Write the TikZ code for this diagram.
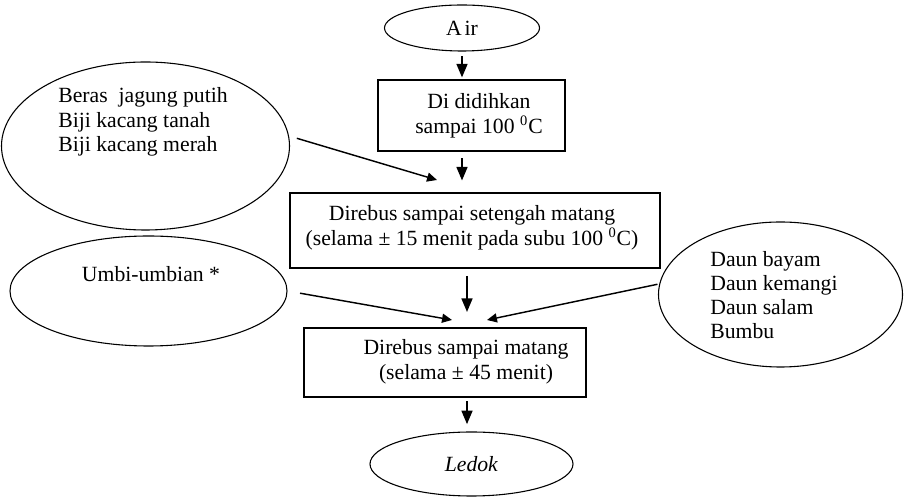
\documentclass[tikz,border=0pt]{standalone}
\usepackage{fontspec}
\setmainfont{Liberation Serif}
\usetikzlibrary{shapes.geometric,arrows.meta}

\tikzset{
  oval/.style={draw, ellipse, line width=0.6pt, inner sep=0pt, font=\fontsize{12}{13.8}\selectfont},
  box/.style={draw, rectangle, line width=0.8pt, inner sep=0pt},
  txt/.style={align=center, font=\fontsize{12}{13.8}\selectfont},
  ltxt/.style={align=left, inner sep=0pt, font=\fontsize{12}{13.4}\selectfont},
  down/.style={-{Triangle[length=7.5pt,width=6pt]}, line width=1.1pt},
  feed/.style={-{Triangle[length=5.5pt,width=5pt]}, line width=0.8pt},
}

\begin{document}
\begin{tikzpicture}[x=0.553pt, y=-0.553pt]
\useasboundingbox (0,0) rectangle (905,501);

% main line
\node[oval, minimum width=155*0.553pt, minimum height=46*0.553pt] (air) at (462,28) {A\kern1.5pt ir};
\node[box, minimum width=187*0.553pt, minimum height=71*0.553pt] (boil) at (471.5,115.5) {};
\node[txt] (boiltxt) at (479,115.5) {Di didihkan\\sampai 100 \textsuperscript{0}C};
\node[box, minimum width=370*0.553pt, minimum height=75*0.553pt] (half) at (475,230.5) {};
\node[txt] (halftxt) at (472,228) {Direbus sampai setengah matang\\(selama ± 15 menit pada subu 100 \textsuperscript{0}C)};
\node[box, minimum width=282*0.553pt, minimum height=69*0.553pt] (done) at (445,362.5) {};
\node[txt] (donetxt) at (466,362) {Direbus sampai matang\\(selama ± 45 menit)};
\node[oval, minimum width=203*0.553pt, minimum height=64*0.553pt] (ledok) at (471.5,464) {\textit{Ledok}};

% bahan tambahan
\node[oval, minimum width=288*0.553pt, minimum height=168*0.553pt] (beras) at (145.5,146) {};
\node[ltxt, anchor=west] (berastxt) at (58,122) {Beras\ \ jagung putih\\Biji kacang tanah\\Biji kacang merah};
\node[oval, minimum width=277*0.553pt, minimum height=110*0.553pt] (umbi) at (148.5,291) {};
\node[txt] (umbitxt) at (151,274) {Umbi-umbian *};
\node[oval, minimum width=244*0.553pt, minimum height=145*0.553pt] (daun) at (780.5,294.5) {};
\node[ltxt, anchor=west] (dauntxt) at (710,295) {Daun bayam\\Daun kemangi\\Daun salam\\Bumbu};

\coordinate (in1) at (437,180);
\coordinate (mid) at (467,312);
\coordinate (inL) at (452,320);
\coordinate (inR) at (487,320);

% panah
\draw[down, shorten <=2.5pt, shorten >=1pt] (air.south) -- (air.south |- boil.north);
\draw[down, shorten <=3.5pt, shorten >=6.5pt] (boil.south -| air) -- (half.north -| air);
\draw[down, shorten <=4pt] (half.south -| mid) -- (mid);
\draw[down, shorten <=2pt, shorten >=4pt] (done.south -| mid) -- (ledok.north -| mid);
\draw[feed, shorten <=4.5pt] (beras.4) -- (in1);
\draw[feed, shorten <=7pt] (umbi.east) -- (inL);
\draw[feed, shorten <=1pt] (daun.175) -- (inR);
\end{tikzpicture}
\end{document}
